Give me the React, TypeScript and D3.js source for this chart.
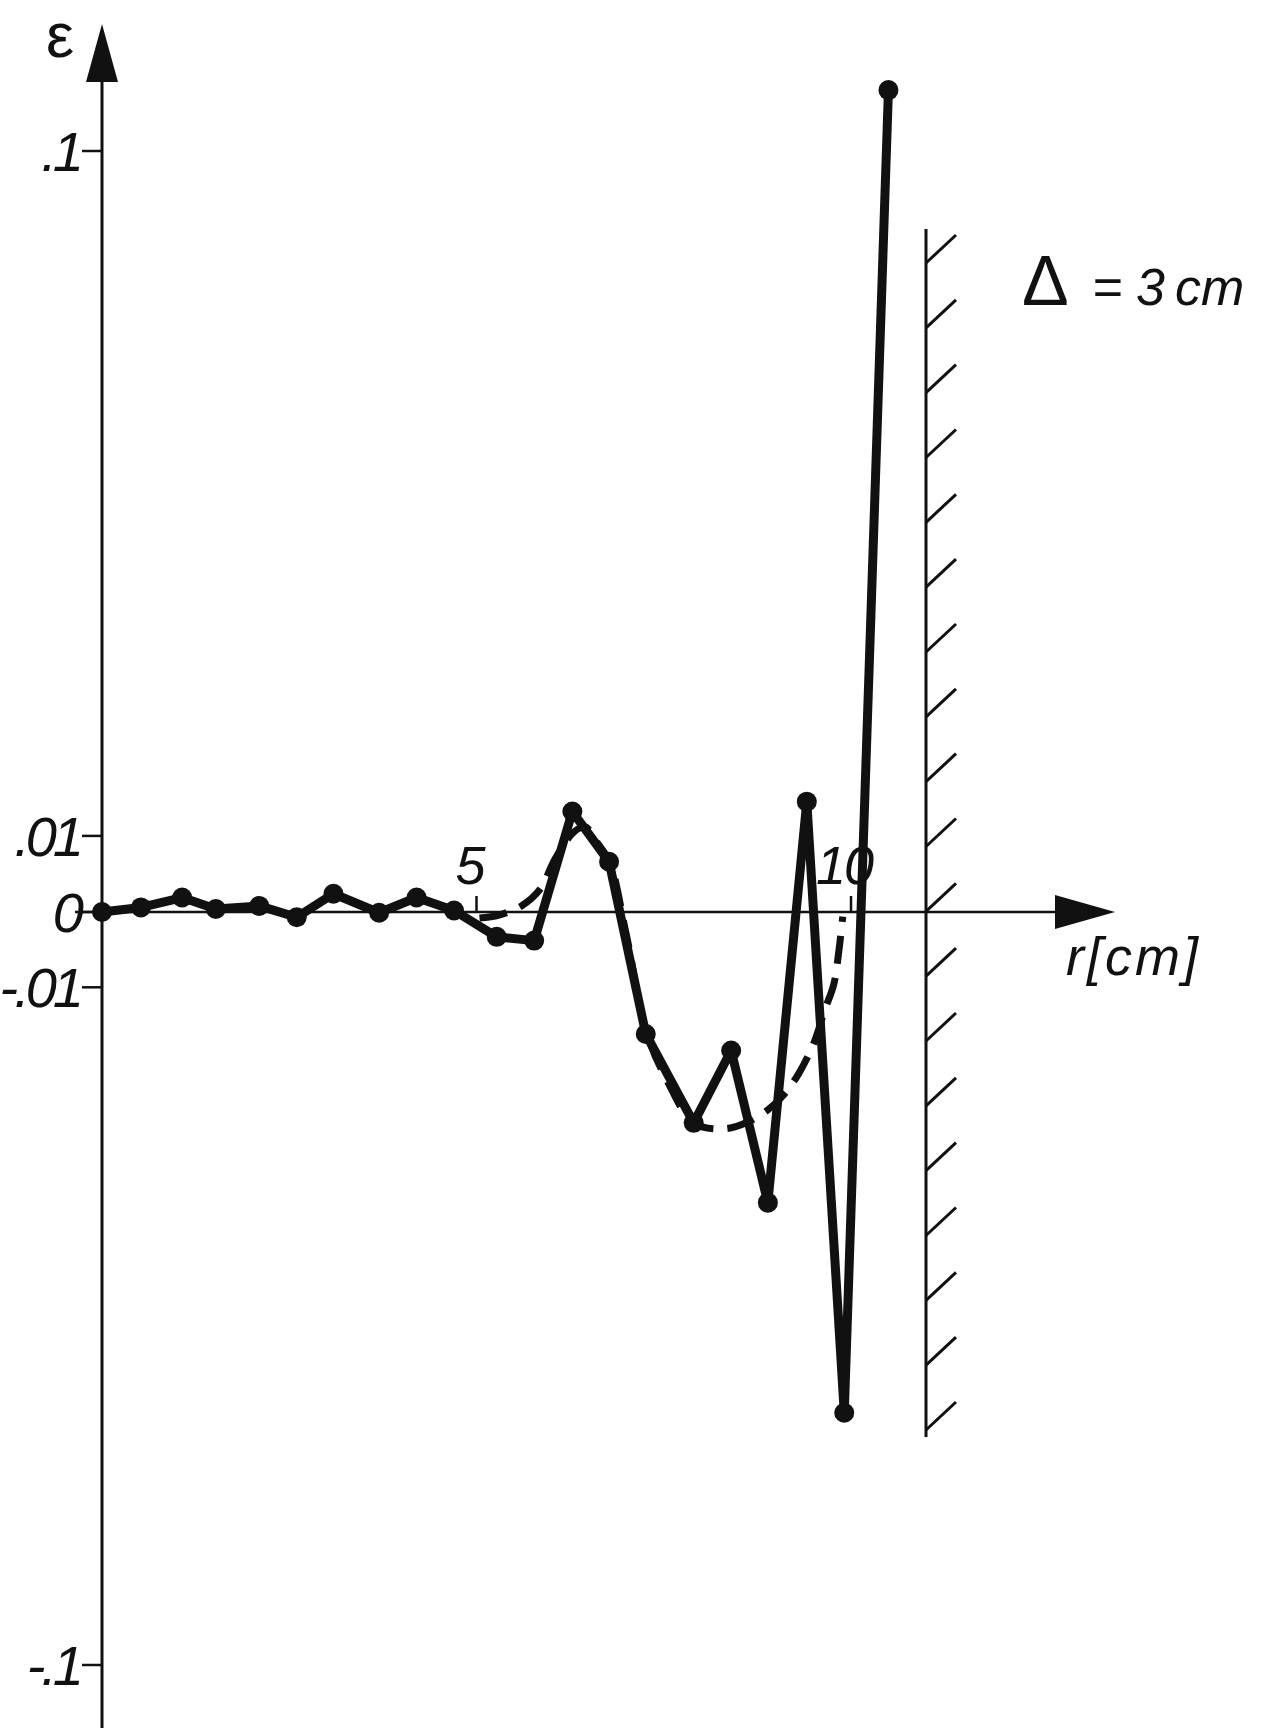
import * as d3 from "d3";

// measured points (r in cm, epsilon)
const radius = [0, 0.52, 1.07, 1.52, 2.1, 2.6, 3.09, 3.7, 4.2, 4.7, 5.27, 5.77, 6.28, 6.77, 7.26, 7.9, 8.4, 8.89, 9.41, 9.91, 10.5];
const epsilon = [0, 0.0006, 0.0019, 0.0004, 0.0008, -0.0007, 0.0024, -0.0001, 0.0019, 0.0002, -0.0033, -0.0038, 0.0132, 0.0066, -0.0162, -0.028, -0.0184, -0.0386, 0.0145, -0.0665, 0.108];

// dashed smooth curve
const fitR = [5.04, 5.3, 5.6, 5.85, 6.05, 6.3, 6.45, 6.62, 6.78, 7.0, 7.27, 7.55, 7.9, 8.3, 8.6, 8.9, 9.1, 9.3, 9.5, 9.65, 9.77, 9.84, 9.89];
const fitEps = [-0.0008, -0.0004, 0.0008, 0.003, 0.007, 0.0105, 0.0112, 0.009, 0.0065, -0.003, -0.016, -0.0225, -0.028, -0.0288, -0.028, -0.0262, -0.0243, -0.0215, -0.0175, -0.013, -0.0096, -0.005, -0.0006];

const yTicks = [0.1, 0.01, 0, -0.01, -0.1];
const yTickLabels = [".1", ".01", "0", "-.01", "-.1"];
const xTicks = [5, 10];
const xTickLabels = ["5", "10"];

const W = 1268;
const H = 1728;
const font = "'Liberation Sans', Arial, sans-serif";

export default function App() {
  const x = d3.scaleLinear().domain([0, 10]).range([102, 851]);
  const y = d3.scaleLinear().domain([-0.1, 0, 0.1]).range([1665, 912, 151]);
  const y0 = y(0);

  const pts = radius.map((r, i) => [x(r), y(epsilon[i])] as [number, number]);
  const fit = fitR.map((r, i) => [x(r), y(fitEps[i])] as [number, number]);
  const solid = d3.line()(pts) ?? "";
  const dashed = d3.line().curve(d3.curveCatmullRom.alpha(0.5))(fit) ?? "";

  // wall with hatching
  const wallX = 926;
  const hatches = d3.range(19).map((i) => 263 + i * ((1430 - 263) / 18));

  return (
    <svg width={W} height={H} style={{ position: "absolute", left: 0, top: 0, background: "#fff" }}>
      {/* y axis */}
      <line x1={x(0)} y1={80} x2={x(0)} y2={H} stroke="#111" strokeWidth={3} />
      <path d={`M${x(0)},24 L${x(0) - 16},82 L${x(0) + 16},82 Z`} fill="#111" />
      <text x={60} y={57} fontFamily={font} fontSize={63} textAnchor="middle" fill="#111">ε</text>
      {yTicks.map((t, i) => (
        <g key={t}>
          <line x1={x(0) - 20} x2={x(0)} y1={y(t)} y2={y(t)} stroke="#111" strokeWidth={2.5} />
          <text x={80} y={y(t) + 20} fontFamily={font} fontStyle="italic" fontSize={56} letterSpacing={-4} textAnchor="end" fill="#111">
            {yTickLabels[i]}
          </text>
        </g>
      ))}

      {/* x axis */}
      <line x1={75} y1={y0} x2={1060} y2={y0} stroke="#111" strokeWidth={2.5} />
      <path d={`M1115,${y0} L1055,${y0 - 17} L1055,${y0 + 17} Z`} fill="#111" />
      {xTicks.map((t, i) => (
        <g key={t}>
          <line x1={x(t)} x2={x(t)} y1={y0} y2={y0 - 16} stroke="#111" strokeWidth={2.5} />
          <text x={x(t) - 7} y={y0 - 28} fontFamily={font} fontStyle="italic" fontSize={54} letterSpacing={-2} textAnchor="middle" fill="#111">
            {xTickLabels[i]}
          </text>
        </g>
      ))}
      <text x={1066} y={975} fontFamily={font} fontStyle="italic" fontSize={54} letterSpacing={3} fill="#111">r[cm]</text>

      {/* wall */}
      <line x1={wallX} y1={229} x2={wallX} y2={1437} stroke="#111" strokeWidth={3} />
      {hatches.map((h) => (
        <line key={h} x1={wallX} y1={h} x2={wallX + 30} y2={h - 28} stroke="#111" strokeWidth={3} />
      ))}
      <text y={305} fontFamily={font} fontSize={52} fill="#111">
        <tspan x={1022} fontSize={70}>Δ</tspan>
        <tspan x={1092} fontStyle="italic">=</tspan>
        <tspan x={1136} fontStyle="italic">3</tspan>
        <tspan x={1175} fontStyle="italic">cm</tspan>
      </text>

      {/* curves */}
      <path d={dashed} fill="none" stroke="#111" strokeWidth={7} strokeDasharray="28 14" />
      <path d={solid} fill="none" stroke="#111" strokeWidth={9} strokeLinejoin="round" />
      {pts.map(([px, py], i) => (
        <circle key={i} cx={px} cy={py} r={10} fill="#111" />
      ))}
    </svg>
  );
}
